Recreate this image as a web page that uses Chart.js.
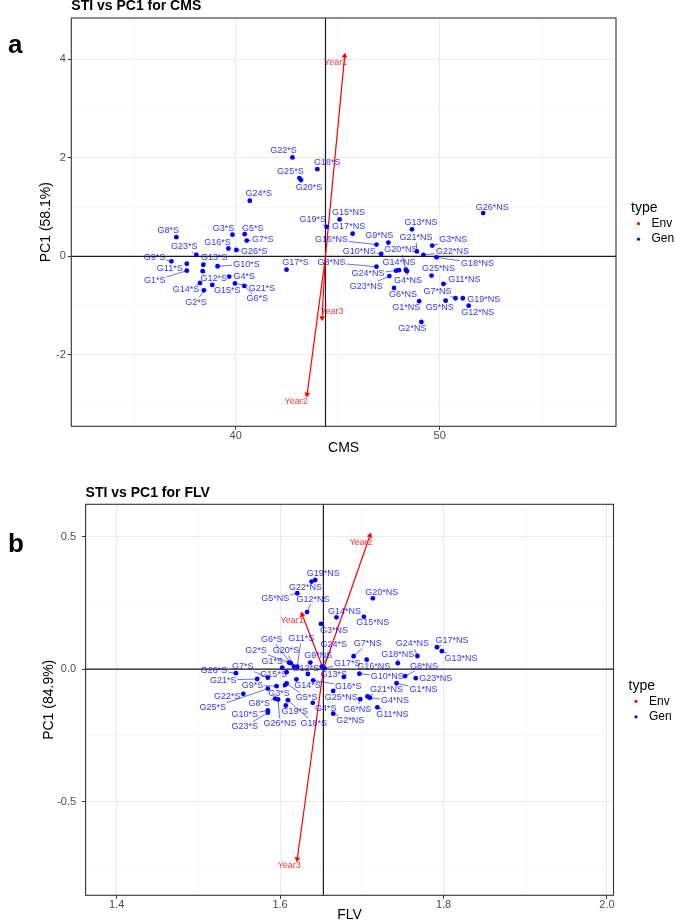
<!DOCTYPE html>
<html>
<head>
<meta charset="utf-8">
<script src="https://cdn.jsdelivr.net/npm/chart.js@4.4.1/dist/chart.umd.min.js"></script>
<style>
  html, body { margin: 0; padding: 0; background: #fff; }
  body { width: 675px; height: 921px; position: relative; overflow: hidden; }
  canvas { position: absolute; left: 0; }
  #cms { top: 0; }
  #flv { top: 465px; }
</style>
</head>
<body>
<canvas id="cms" width="675" height="465"></canvas>
<canvas id="flv" width="675" height="456"></canvas>
<script>
// ---- data ----
const genotypes = ["G1", "G2", "G3", "G4", "G5", "G6", "G7", "G8", "G9", "G10", "G11", "G12", "G13",
  "G14", "G15", "G16", "G17", "G18", "G19", "G20", "G21", "G22", "G23", "G24", "G25", "G26"];
const years = ["Year1", "Year2", "Year3"];

// panel a: STI vs PC1 for CMS (S = stress, NS = non-stress)
const cmsStressX = [37.6, 38.44, 39.84, 39.68, 40.44, 40.42, 40.54, 37.09, 36.85, 39.11, 37.6, 38.38, 38.41,
  38.25, 38.85, 39.64, 42.49, 44.0, 44.46, 43.2, 39.96, 42.78, 38.07, 40.69, 43.12, 40.03];
const cmsStressPC1 = [-0.29, -0.69, 0.44, -0.41, 0.45, -0.60, 0.32, 0.39, -0.10, -0.20, -0.15, -0.30, -0.17,
  -0.54, -0.58, 0.16, -0.27, 1.77, 0.60, 1.55, -0.55, 2.01, 0.03, 1.13, 1.59, 0.13];
const cmsNonStressX = [48.99, 49.1, 49.63, 48.39, 50.29, 47.76, 50.77, 46.9, 47.48, 47.13, 50.18, 51.42, 48.64,
  48.0, 45.09, 46.9, 45.73, 49.84, 51.13, 48.34, 48.88, 49.2, 47.53, 47.86, 49.6, 52.13];
const cmsNonStressPC1 = [-0.91, -1.33, 0.22, -0.30, -0.90, -0.64, -0.85, -0.21, 0.28, 0.05, -0.56, -1.00, 0.55,
  -0.28, 0.75, 0.24, 0.46, -0.02, -0.85, -0.27, 0.10, 0.03, -0.40, -0.29, -0.39, 0.88];
const cmsYearX = [45.34, 43.5, 44.23];
const cmsYearPC1 = [4.07, -2.80, -1.25];
const cmsMean = 44.40;
const cmsGrid = [35, 40, 45, 50, 55];
const cmsTicks = [40, 50];
const cmsPcGrid = [-3, -2, -1, 0, 1, 2, 3, 4];
const cmsPcTicks = [-2, 0, 2, 4];

// panel b: STI vs PC1 for FLV
const flvStressX = [1.6026, 1.611, 1.606, 1.640, 1.608, 1.613, 1.585, 1.594, 1.5957, 1.585, 1.621, 1.634, 1.678,
  1.620, 1.608, 1.6405, 1.654, 1.6095, 1.607, 1.617, 1.572, 1.555, 1.585, 1.651, 1.585, 1.546];
const flvStressPC1 = [0.006, 0.025, -0.060, -0.127, -0.054, 0.023, -0.032, -0.111, -0.064, -0.156, 0.010, -0.018, -0.029,
  -0.038, -0.011, -0.042, 0.004, -0.117, -0.137, 0.010, -0.037, -0.093, -0.164, 0.010, -0.073, -0.015];
const flvNonStressX = [1.7425, 1.665, 1.650, 1.710, 1.621, 1.698, 1.690, 1.753, 1.637, 1.697, 1.719, 1.633, 1.798,
  1.669, 1.7025, 1.706, 1.792, 1.744, 1.643, 1.7135, 1.707, 1.6385, 1.766, 1.768, 1.665, 1.5975];
const flvNonStressPC1 = [-0.053, -0.168, 0.171, -0.108, 0.287, -0.113, 0.049, -0.026, 0.025, -0.017, -0.144, 0.216, 0.068,
  0.196, 0.198, 0.036, 0.083, 0.023, 0.337, 0.268, -0.103, 0.331, -0.034, 0.050, -0.082, -0.114];
const flvYearX = [1.627, 1.710, 1.621];
const flvYearPC1 = [0.206, 0.505, -0.717];
const flvMean = 1.653;
const flvGrid = [1.4, 1.5, 1.6, 1.7, 1.8, 1.9, 2.0];
const flvTicks = [1.4, 1.6, 1.8, 2.0];
const flvPcGrid = [-0.75, -0.5, -0.25, 0, 0.25, 0.5];
const flvPcTicks = [-0.5, 0, 0.5];

// ---- label placement (pixel nudges, like ggrepel put them) ----
const cmsShift = {
  "G1*S": [-32, 10], "G2*S": [-8, 12], "G3*S": [-9, -6], "G4*S": [15, 0], "G5*S": [8, -6], "G6*S": [13, 13],
  "G7*S": [16, -1], "G8*S": [-8, -7], "G9*S": [-17, -4], "G10*S": [29, -2], "G11*S": [-17, 5], "G12*S": [11, 7],
  "G13*S": [11, -7], "G14*S": [-14, 7], "G15*S": [15, 6], "G16*S": [-11, -6], "G17*S": [9, -7], "G18*S": [10, -7],
  "G19*S": [-14, -7], "G20*S": [8, 7], "G21*S": [27, 5], "G22*S": [-9, -7], "G23*S": [-12, -8], "G24*S": [9, -7],
  "G25*S": [-9, -7], "G26*S": [18, 2],
  "G1*NS": [-13, 6], "G2*NS": [-9, 7], "G3*NS": [21, -6], "G4*NS": [1, 9], "G5*NS": [-6, 7], "G6*NS": [9, 7],
  "G7*NS": [-18, -7], "G8*NS": [-45, -4], "G9*NS": [-9, -7], "G10*NS": [-22, -2], "G11*NS": [21, -4],
  "G12*NS": [9, 7], "G13*NS": [9, -7], "G14*NS": [0, -8], "G15*NS": [9, -7], "G16*NS": [-45, -5],
  "G17*NS": [-4, -7], "G18*NS": [41, 6], "G19*NS": [21, 1], "G20*NS": [-5, -20], "G21*NS": [-1, -14],
  "G22*NS": [29, -3], "G23*NS": [-23, 10], "G24*NS": [-28, 3], "G25*NS": [7, -7], "G26*NS": [9, -6],
  "Year1": [-9, 7], "Year2": [-11, 7], "Year3": [10, -6]
};
const flvShift = {
  "G1*S": [-10, -6], "G2*S": [-33, -12], "G3*S": [-6, 8], "G4*S": [13, 6], "G5*S": [20, 14], "G6*S": [-19, -24],
  "G7*S": [-25, -11], "G8*S": [-16, 5], "G9*S": [-24, -1], "G10*S": [-23, 4], "G11*S": [4, -28], "G12*S": [-2, -5],
  "G13*S": [-10, -2], "G14*S": [11, 6], "G15*S": [-13, 2], "G16*S": [35, 6], "G17*S": [23, -5], "G18*S": [26, 23],
  "G19*S": [9, 6], "G20*S": [-8, -16], "G21*S": [-34, 1], "G22*S": [-16, 3], "G23*S": [-23, 14], "G24*S": [12, -22],
  "G25*S": [-55, 19], "G26*S": [-22, -3],
  "G1*NS": [27, 6], "G2*NS": [17, 7], "G3*NS": [13, 7], "G4*NS": [25, 3], "G5*NS": [-22, 5], "G6*NS": [-3, 10],
  "G7*NS": [14, -13], "G8*NS": [19, -10], "G9*NS": [8, -7], "G10*NS": [28, 3], "G11*NS": [15, 7],
  "G12*NS": [6, -13], "G13*NS": [19, 7], "G14*NS": [8, -6], "G15*NS": [9, 6], "G16*NS": [7, 7],
  "G17*NS": [15, -7], "G18*NS": [0, -9], "G19*NS": [8, -6], "G20*NS": [9, -6], "G21*NS": [19, -7],
  "G22*NS": [-6, 6], "G23*NS": [20, 0], "G24*NS": [-5, -12], "G25*NS": [8, 7], "G26*NS": [2, 24],
  "Year1": [-10, 6], "Year2": [-9, 7], "Year3": [-8, 6]
};

const FONT = '"Liberation Sans", Arial, Helvetica, sans-serif';
Chart.defaults.font.family = FONT;

function isIn(list, v) {
  return list.some(t => Math.abs(t - v) < 1e-9);
}

// point on the label box edge, heading from the box centre to the point
function boxEdge(px, py, cx, cy, hw, hh) {
  const dx = px - cx, dy = py - cy;
  if (Math.abs(dx) <= hw && Math.abs(dy) <= hh) return null;
  const t = Math.min(hw / (Math.abs(dx) || 1e-9), hh / (Math.abs(dy) || 1e-9));
  return [cx + dx * t, cy + dy * t];
}

const biplotPlugin = {
  id: 'biplot',
  beforeDatasetsDraw(chart, args, opts) {
    const { ctx, chartArea: a, scales } = chart;
    const x0 = scales.x.getPixelForValue(opts.mean);
    const y0 = scales.y.getPixelForValue(0);
    ctx.save();
    ctx.strokeStyle = '#1a1a1a';
    ctx.lineWidth = 1.2;
    ctx.beginPath();
    ctx.moveTo(a.left, y0); ctx.lineTo(a.right, y0);
    ctx.moveTo(x0, a.top); ctx.lineTo(x0, a.bottom);
    ctx.stroke();
    ctx.restore();
  },
  afterDatasetsDraw(chart, args, opts) {
    const { ctx, chartArea: a } = chart;
    const shift = opts.shift;
    ctx.save();
    ctx.font = '9px ' + FONT;
    ctx.textAlign = 'center';
    ctx.textBaseline = 'middle';
    [0, 1].forEach(di => {
      const ds = chart.data.datasets[di];
      const meta = chart.getDatasetMeta(di);
      const col = di === 0 ? 'rgba(0,0,255,0.82)' : 'rgba(255,0,0,0.8)';
      ds.data.forEach((d, i) => {
        const el = meta.data[i];
        const s = shift[d.name] || [8, -7];
        const cx = el.x + s[0], cy = el.y + s[1];
        const hw = ctx.measureText(d.name).width / 2 + 1, hh = 5;
        const e = boxEdge(el.x, el.y, cx, cy, hw, hh);
        if (e && Math.hypot(e[0] - el.x, e[1] - el.y) > 3.5) {
          ctx.strokeStyle = col;
          ctx.lineWidth = 0.7;
          ctx.beginPath();
          ctx.moveTo(el.x, el.y);
          ctx.lineTo(e[0], e[1]);
          ctx.stroke();
        }
        ctx.fillStyle = col;
        ctx.fillText(d.name, cx, cy);
      });
    });
    // panel border
    ctx.strokeStyle = '#333333';
    ctx.lineWidth = 1.1;
    ctx.strokeRect(a.left, a.top, a.right - a.left, a.bottom - a.top);
    ctx.restore();
  },
  afterDraw(chart, args, opts) {
    const { ctx, chartArea: a } = chart;
    ctx.save();
    ctx.fillStyle = '#000';
    ctx.textBaseline = 'middle';
    ctx.textAlign = 'left';
    ctx.font = 'bold 26px ' + FONT;
    ctx.fillText(opts.letter, 8, opts.letterY);
    ctx.font = 'bold 14px ' + FONT;
    ctx.fillText(opts.title, a.left, opts.titleY);
    // legend
    const mid = (a.top + a.bottom) / 2;
    const lx = a.right + 15;
    ctx.font = '14px ' + FONT;
    ctx.fillText('type', lx, mid - 14);
    ctx.font = '12px ' + FONT;
    [['Env', '#ff0000'], ['Gen', '#0000ff']].forEach((it, k) => {
      const y = mid + 1.5 + k * 15.5;
      ctx.fillStyle = it[1];
      ctx.beginPath();
      ctx.arc(lx + 7.5, y, 1.6, 0, Math.PI * 2);
      ctx.fill();
      ctx.fillStyle = '#000';
      ctx.fillText(it[0], lx + 20.5, y);
    });
    ctx.restore();
  }
};

function axis(o) {
  return {
    type: 'linear',
    min: o.min,
    max: o.max,
    afterBuildTicks: s => { s.ticks = o.grid.map(v => ({ value: v })); },
    afterFit: s => { if (o.width) s.width = o.width; if (o.height) s.height = o.height; },
    grid: {
      color: c => isIn(o.major, c.tick.value) ? '#ebebeb' : '#f3f3f3',
      lineWidth: c => isIn(o.major, c.tick.value) ? 1 : 0.6,
      tickColor: c => isIn(o.major, c.tick.value) ? '#333333' : 'rgba(0,0,0,0)',
      tickLength: 3.5,
      tickWidth: 1
    },
    border: { display: false },
    ticks: {
      autoSkip: false,
      maxRotation: 0,
      color: '#4d4d4d',
      font: { size: 11 },
      padding: o.tickPad,
      callback: v => isIn(o.major, v) ? o.fmt(v) : ''
    },
    title: {
      display: true,
      text: o.title,
      color: '#000',
      font: { size: 14, lineHeight: 1 },
      padding: o.titlePad
    }
  };
}

function biplot(id, p) {
  const gen = [];
  genotypes.forEach((g, i) => gen.push({ x: p.sx[i], y: p.sy[i], name: g + '*S' }));
  genotypes.forEach((g, i) => gen.push({ x: p.nx[i], y: p.ny[i], name: g + '*NS' }));
  const env = years.map((yr, i) => ({ x: p.yx[i], y: p.yy[i], name: yr }));
  const arrows = env.map(e => ({
    type: 'line',
    data: [{ x: p.mean, y: 0 }, { x: e.x, y: e.y }],
    borderColor: '#ff0000',
    borderWidth: 1.2,
    pointRadius: 0,
    order: 2
  }));
  const H = document.getElementById(id).height;
  return new Chart(document.getElementById(id), {
    type: 'scatter',
    data: {
      datasets: [
        { label: 'Gen', data: gen, backgroundColor: '#0000ff', borderWidth: 0, pointRadius: 2.4, order: 1 },
        {
          label: 'Env', data: env, backgroundColor: '#ff0000', borderColor: '#ff0000', borderWidth: 0,
          pointStyle: 'triangle', pointRadius: 3.3, order: 0,
          rotation: c => {
            const s = c.chart.scales, r = c.raw;
            if (!r || !s.x) return 0;
            const dx = s.x.getPixelForValue(r.x) - s.x.getPixelForValue(p.mean);
            const dy = s.y.getPixelForValue(r.y) - s.y.getPixelForValue(0);
            return Math.atan2(dx, -dy) * 180 / Math.PI;
          }
        },
        ...arrows
      ]
    },
    options: {
      responsive: false,
      animation: false,
      events: [],
      layout: { padding: { left: 0, top: p.area.top, right: 675 - p.area.right, bottom: 0 } },
      scales: {
        x: axis({ min: p.xMin, max: p.xMax, grid: p.xGrid, major: p.xTicks, fmt: p.xFmt, title: p.xTitle,
          height: H - p.area.bottom, tickPad: 0, titlePad: { top: 0, bottom: p.xTitlePad } }),
        y: axis({ min: p.yMin, max: p.yMax, grid: p.yGrid, major: p.yTicks, fmt: p.yFmt, title: p.yTitle,
          width: p.area.left, tickPad: p.yTickPad, titlePad: { top: p.yTitlePad, bottom: 0 } })
      },
      plugins: {
        legend: { display: false },
        tooltip: { enabled: false },
        biplot: { mean: p.mean, shift: p.shift, title: p.title, titleY: p.titleY, letter: p.letter, letterY: p.letterY }
      }
    },
    plugins: [biplotPlugin]
  });
}

biplot('cms', {
  sx: cmsStressX, sy: cmsStressPC1, nx: cmsNonStressX, ny: cmsNonStressPC1,
  yx: cmsYearX, yy: cmsYearPC1, mean: cmsMean, shift: cmsShift,
  xMin: 31.94, xMax: 58.64, xGrid: cmsGrid, xTicks: cmsTicks, xFmt: v => String(v), xTitle: 'CMS',
  yMin: -3.45, yMax: 4.84, yGrid: cmsPcGrid, yTicks: cmsPcTicks, yFmt: v => String(v), yTitle: 'PC1 (58.1%)',
  area: { left: 71.3, right: 616, top: 18, bottom: 426.3 },
  xTitlePad: 10, yTitlePad: 39, yTickPad: 2,
  title: 'STI vs PC1 for CMS', titleY: 6, letter: 'a', letterY: 46
});

biplot('flv', {
  sx: flvStressX, sy: flvStressPC1, nx: flvNonStressX, ny: flvNonStressPC1,
  yx: flvYearX, yy: flvYearPC1, mean: flvMean, shift: flvShift,
  xMin: 1.362, xMax: 2.008, xGrid: flvGrid, xTicks: flvTicks, xFmt: v => v.toFixed(1), xTitle: 'FLV',
  yMin: -0.854, yMax: 0.623, yGrid: flvPcGrid, yTicks: flvPcTicks, yFmt: v => v.toFixed(1), yTitle: 'PC1 (84.9%)',
  area: { left: 85.6, right: 613.5, top: 39.3, bottom: 430.3 },
  xTitlePad: -1, yTitlePad: 42, yTickPad: 6,
  title: 'STI vs PC1 for FLV', titleY: 28, letter: 'b', letterY: 80
});
</script>
</body>
</html>
